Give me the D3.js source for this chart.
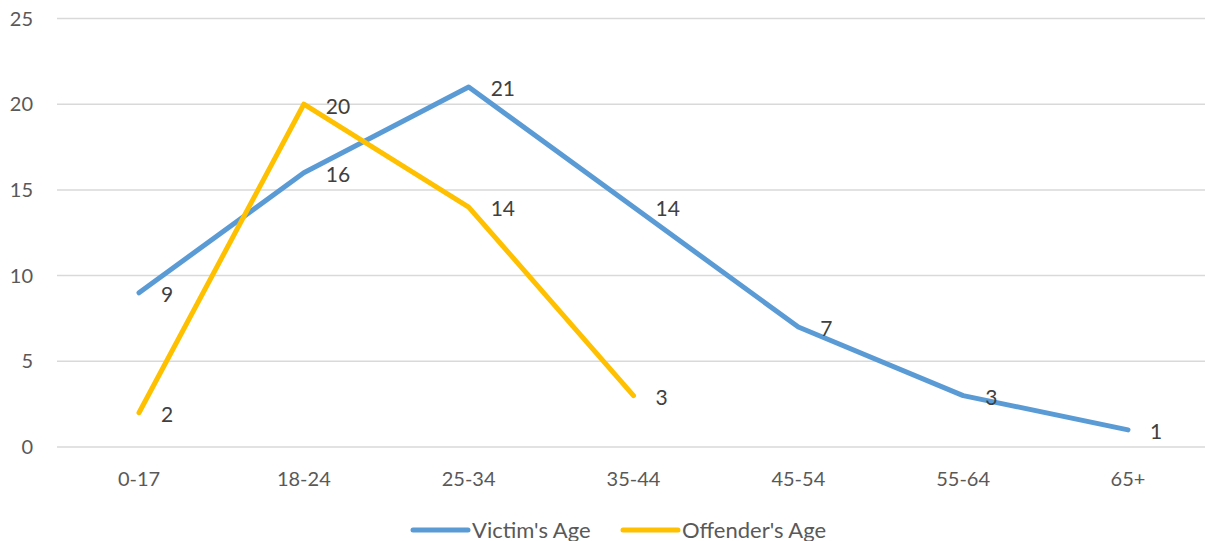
<!DOCTYPE html>
<html>
<head>
<meta charset="utf-8">
<script src="https://cdn.jsdelivr.net/npm/d3@7"></script>
<style>
  body { margin: 0; background: #fff; }
  text { font-family: Lato, "Open Sans", sans-serif; fill: #404040; }
</style>
</head>
<body>
<div id="chart"></div>
<script>
var categories = ["0-17", "18-24", "25-34", "35-44", "45-54", "55-64", "65+"];
var victimAge = [9, 16, 21, 14, 7, 3, 1];
var offenderAge = [2, 20, 14, 3];
var yTicks = [0, 5, 10, 15, 20, 25];

var width = 1205, height = 541;

var svg = d3.select("#chart").append("svg")
  .attr("width", width)
  .attr("height", height);

var x = d3.scalePoint().domain(categories).range([139, 1128]);
var y = d3.scaleLinear().domain([0, 25]).range([447, 18.5]);

// gridlines
svg.append("g")
  .selectAll("line")
  .data(yTicks)
  .enter().append("line")
  .attr("x1", 57).attr("x2", width)
  .attr("y1", d => y(d)).attr("y2", d => y(d))
  .style("stroke", "#d9d9d9")
  .style("stroke-width", 1.5);

// y labels
svg.append("g")
  .selectAll("text")
  .data(yTicks)
  .enter().append("text")
  .attr("x", 33)
  .attr("y", d => y(d))
  .attr("dy", "0.35em")
  .attr("text-anchor", "end")
  .style("font-size", "20px")
  .style("fill", "#595959")
  .text(d => d);

// x labels
svg.append("g")
  .selectAll("text")
  .data(categories)
  .enter().append("text")
  .attr("x", d => x(d))
  .attr("y", 479)
  .attr("dy", "0.35em")
  .attr("text-anchor", "middle")
  .style("font-size", "20px")
  .style("fill", "#595959")
  .text(d => d);

var series = [
  {name: "Victim's Age", values: victimAge, color: "#5b9bd5"},
  {name: "Offender's Age", values: offenderAge, color: "#ffc000"}
];

var line = d3.line()
  .x((d, i) => x(categories[i]))
  .y(d => y(d));

series.forEach(function(s) {
  svg.append("path")
    .datum(s.values)
    .attr("d", line)
    .style("fill", "none")
    .style("stroke", s.color)
    .style("stroke-width", 5)
    .style("stroke-linecap", "round")
    .style("stroke-linejoin", "round");
});

series.forEach(function(s) {
  svg.append("g")
    .selectAll("text")
    .data(s.values)
    .enter().append("text")
    .attr("x", (d, i) => x(categories[i]) + 22)
    .attr("y", d => y(d) + 2)
    .attr("dy", "0.35em")
    .style("font-size", "21px")
    .text(d => d);
});

// legend
var legend = svg.append("g");
var legendX = [413, 623];
series.forEach(function(s, i) {
  legend.append("line")
    .attr("x1", legendX[i]).attr("x2", legendX[i] + 55)
    .attr("y1", 530).attr("y2", 530)
    .style("stroke", s.color)
    .style("stroke-width", 5)
    .style("stroke-linecap", "round");
  legend.append("text")
    .attr("x", legendX[i] + 59)
    .attr("y", 530)
    .attr("dy", "0.35em")
    .style("font-size", "22px")
    .style("fill", "#595959")
    .text(s.name);
});
</script>
</body>
</html>
